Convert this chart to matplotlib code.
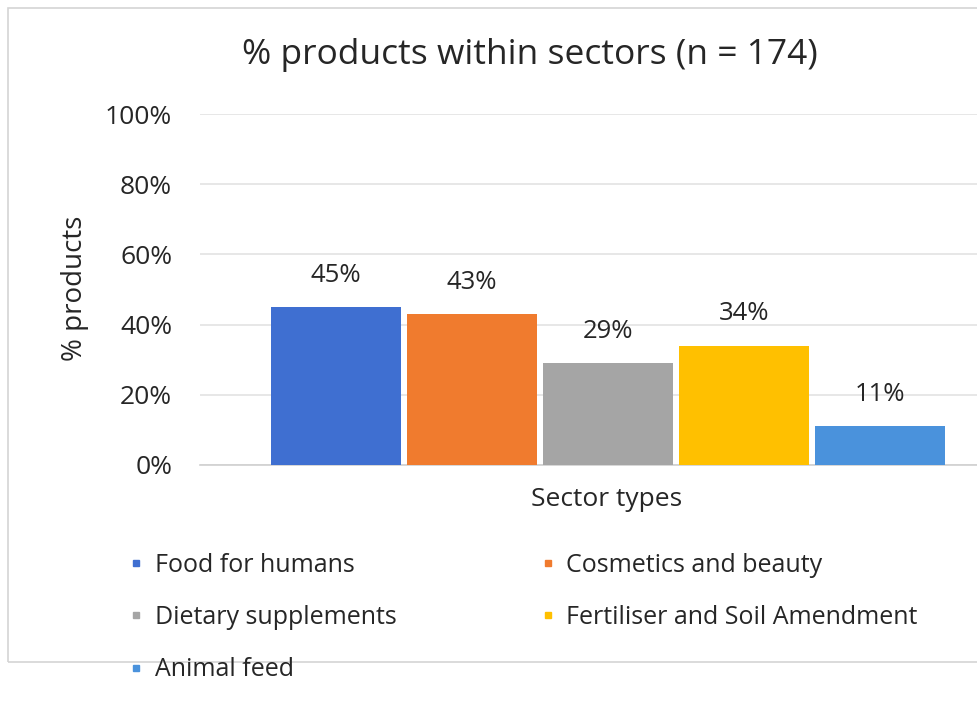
import matplotlib
matplotlib.use('Agg')
import matplotlib.pyplot as plt
import matplotlib as mpl
from matplotlib.patches import Rectangle
from matplotlib.lines import Line2D

mpl.rcParams['font.family'] = ['Open Sans', 'DejaVu Sans']

# share of products in each sector (n = 174)
sectors = ['Food for humans', 'Cosmetics and beauty', 'Dietary supplements',
           'Fertiliser and Soil Amendment', 'Animal feed']
shares = [45, 43, 29, 34, 11]
bar_colors = ['#3f6fd1', '#f07b2e', '#a5a5a5', '#ffc000', '#4a92dc']
y_ticks = [0, 20, 40, 60, 80, 100]

txt = '#262626'
fig = plt.figure(figsize=(9.78, 7.02), dpi=100)
W, H = 978, 702

# light chart-area frame
fig.patches.append(Rectangle((8 / W, 1 - 662 / H), 1.2, (662 - 8) / H,
                             transform=fig.transFigure, fill=False,
                             edgecolor='#d4d4d4', linewidth=1.2))

# plot area runs past the right edge of the figure
ax = fig.add_axes([200 / W, 1 - 465 / H, 816 / W, (465 - 114) / H])
x = list(range(len(sectors)))
bars = ax.bar(x, shares, width=0.955, color=bar_colors, zorder=3)

for xi, v in zip(x, shares):
    ax.annotate(f'{v}%', (xi, v), xytext=(0, 23), textcoords='offset points',
                ha='center', va='center', fontsize=18.5, color=txt)

ax.set_xlim(-1, 5)
ax.set_ylim(0, 100)
ax.set_yticks(y_ticks)
ax.set_yticklabels([f'{t}%' for t in y_ticks], fontsize=19, color=txt)
ax.set_xticks([])
ax.tick_params(axis='y', length=0, pad=20)
ax.grid(axis='y', color='#e3e3e3', linewidth=1.2, zorder=0)
for s in ['top', 'right', 'left']:
    ax.spines[s].set_visible(False)
ax.spines['bottom'].set_color('#d0d0d0')
ax.spines['bottom'].set_linewidth(1.2)

fig.text(75 / W, 1 - 288 / H, '% products', rotation=90, ha='center',
         va='center', fontsize=20, color=txt)
fig.text(607 / W, 1 - 500 / H, 'Sector types', ha='center', va='center',
         fontsize=19, color=txt)
fig.text(530 / W, 1 - 55 / H, '% products within sectors (n = 174)',
         ha='center', va='center', fontsize=25.5, color=txt)

# small square keys; legend reads across rows, matplotlib fills down columns
keys = [Line2D([], [], linestyle='none', marker='s', markersize=5,
               markerfacecolor=c, markeredgecolor=c) for c in bar_colors]
order = [0, 2, 4, 1, 3]
fig.legend(handles=[keys[i] for i in order], labels=[sectors[i] for i in order],
           loc='upper left', bbox_to_anchor=(106 / W, 1 - 530 / H), ncol=2,
           frameon=False, fontsize=18, handlelength=0.6,
           handletextpad=0.45, columnspacing=5.75, labelspacing=1.1,
           labelcolor=txt)

fig.savefig('out.png', dpi=100, facecolor='white')
